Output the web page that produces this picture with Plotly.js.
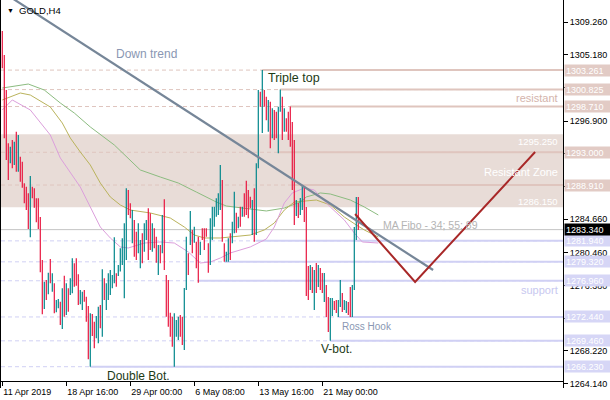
<!DOCTYPE html>
<html><head><meta charset="utf-8">
<script src="https://cdn.plot.ly/plotly-3.0.1.min.js"></script>
<style>html,body{margin:0;padding:0;background:#fff;}#chart{width:610px;height:400px;}</style>
</head><body><div id="chart"></div>
<script>
// ---- data (GOLD, H4 bars: high / low / direction) ----
const highs = [1308.14,1305.14,1300.77,1294.12,1293.70,1294.53,1294.32,1295.57,1295.16,1292.45,
1291.83,1289.12,1288.70,1287.88,1290.04,1288.70,1288.50,1287.25,1287.25,1284.92,
1279.55,1276.84,1277.05,1277.96,1279.68,1277.89,1276.64,1274.56,1274.68,1274.35,
1276.02,1277.59,1276.64,1276.02,1277.27,1279.76,1279.14,1279.76,1277.77,1275.81,
1275.60,1275.81,1274.97,1273.81,1272.90,1272.81,1271.85,1272.56,1273.72,1273.93,
1278.39,1277.27,1276.64,1277.89,1278.30,1277.68,1282.38,1277.89,1278.93,1281.01,
1282.26,1284.13,1288.50,1288.29,1286.63,1285.79,1284.54,1283.09,1284.13,1282.05,
1282.88,1284.13,1284.54,1286.00,1285.38,1284.13,1283.51,1282.46,1281.42,1281.42,
1285.17,1287.13,1277.68,1277.05,1272.97,1272.47,1272.90,1272.06,1272.47,1272.68,
1272.47,1276.05,1282.46,1280.39,1285.67,1283.30,1283.71,1281.84,1282.46,1281.84,
1283.51,1283.51,1283.51,1281.64,1284.76,1286.21,1286.21,1287.25,1287.88,1291.41,
1289.54,1281.64,1280.59,1282.26,1282.88,1284.33,1288.08,1285.46,1284.96,1286.21,
1286.21,1287.88,1289.45,1288.29,1287.46,1287.04,1288.50,1291.62,1300.77,1300.56,
1303.26,1300.77,1299.94,1299.53,1299.32,1298.49,1298.28,1298.07,1298.69,1300.825,
1299.94,1298.49,1297.24,1298.07,1298.71,1296.78,1294.53,1287.04,1286.67,1287.29,
1288.79,1288.67,1286.17,1278.80,1278.93,1278.68,1278.30,1279.18,1278.93,1278.55,
1277.93,1277.93,1276.43,1274.93,1274.81,1274.81,1274.43,1274.56,1274.56,1277.05,
1275.43,1274.56,1274.43,1274.31,1276.18,1276.43,1283.67,1287.42,1287.42];
const lows = [1303.48,1294.74,1292.04,1289.54,1291.62,1291.00,1291.41,1290.58,1290.58,1289.33,
1288.58,1286.63,1285.79,1283.42,1282.38,1287.25,1286.08,1284.26,1283.42,1278.02,
1272.77,1273.43,1274.56,1275.27,1276.64,1275.60,1272.90,1273.02,1273.52,1271.44,
1270.94,1272.47,1272.68,1273.10,1275.18,1275.39,1276.22,1276.34,1273.93,1274.02,
1273.31,1274.35,1271.85,1267.15,1266.23,1270.06,1268.53,1269.78,1269.15,1271.02,
1269.98,1274.56,1273.31,1274.56,1275.18,1276.02,1276.64,1276.22,1277.55,1278.10,
1278.93,1274.77,1279.55,1285.17,1284.76,1281.64,1279.96,1279.55,1280.39,1278.51,
1279.14,1280.59,1282.05,1279.55,1280.80,1280.59,1281.01,1279.21,1277.68,1279.14,
1280.39,1278.30,1272.47,1271.23,1269.98,1268.73,1266.23,1269.98,1269.56,1269.98,
1268.94,1268.32,1275.81,1277.68,1281.42,1280.39,1281.71,1278.51,1276.72,1280.17,
1282.05,1280.80,1282.46,1277.97,1278.93,1282.05,1283.71,1284.96,1285.17,1285.79,
1281.84,1279.34,1279.34,1279.34,1279.55,1281.64,1282.88,1282.96,1283.51,1283.71,
1284.96,1284.96,1285.17,1284.76,1286.00,1282.67,1281.84,1282.67,1290.99,1298.69,
1295.41,1298.69,1297.00,1295.57,1293.50,1294.74,1294.53,1294.74,1292.87,1298.07,
1294.53,1295.57,1295.57,1294.53,1293.70,1288.29,1283.92,1285.04,1284.80,1285.17,
1285.79,1284.30,1275.06,1274.56,1275.81,1275.43,1273.31,1275.43,1276.18,1275.81,
1275.43,1274.31,1272.44,1270.56,1269.46,1272.56,1273.31,1272.93,1272.44,1273.68,
1273.06,1273.31,1272.93,1272.68,1272.44,1272.44,1275.81,1282.05,1283.30];
const dirs = ("ddddududud"+"dddduddddd"+"dudududuud"+"ududuudddu"+"udddudduud"+
"uduuuuuduu"+"uuuddudduu"+"duudduddud"+"uddddduuud"+"duudududdu"+
"dddduuuuuu"+"dduuduudud"+"udddduduud"+"uddududduu"+"dudddddudu"+
"udddududud"+"dudduudduu"+"duudduuud").split('');

// moving averages (34 / 55 / 89), sampled at bar positions
const ma89X = [0,13,21,29,36,44,56,69,79,88,97,107,112,120,132,141,149,152,159,164,174,181,188];
const ma89Y = [1301.02,1301.52,1300.77,1299.15,1297.90,1296.16,1293.91,1290.79,1289.91,1289.16,1288.04,1286.79,1286.29,1286.04,1285.67,1286.04,1286.79,1287.42,1287.92,1287.79,1287.04,1286.17,1285.17];
const ma55X = [0,9,14,24,30,34,39,44,49,54,59,64,74,84,91,96,101,109,124,131,136,141,146,157,164,171,177,181,188];
const ma55Y = [1299.53,1300.40,1300.15,1298.65,1296.65,1294.78,1293.03,1291.41,1289.16,1287.42,1286.42,1285.79,1285.42,1284.79,1283.67,1282.67,1282.30,1282.30,1282.67,1283.30,1284.17,1285.79,1286.79,1287.04,1286.42,1284.92,1283.92,1283.30,1282.42];
const ma34X = [0,5,14,20,24,29,34,39,44,49,54,59,63,71,79,86,93,99,104,109,114,119,124,129,132,136,141,145,151,156,164,171,176,180,188];
const ma34Y = [1298.28,1299.53,1298.28,1296.40,1295.16,1292.29,1290.54,1288.66,1286.17,1283.67,1282.30,1281.18,1281.05,1281.67,1281.80,1281.67,1280.55,1279.18,1279.30,1279.80,1280.43,1280.80,1281.18,1281.80,1282.17,1283.67,1286.67,1287.92,1288.54,1288.29,1286.17,1284.55,1282.92,1281.80,1281.67];

// drawn objects
const trendX = [0, 215.4], trendY = [1313.03, 1278.30];
const zigX = [176.4, 206.4, 266.4], zigY = [1285.29, 1276.81, 1293.03];
const resLevels = [1303.261,1300.825,1298.710,1293.000,1288.910];
const resStart  = [130,139,144,138,145];
const supLevels = [1281.940,1279.320,1276.960,1272.440,1269.460,1266.230];
const supStart  = [127,111,98,168,164,44];
const zoneTop = 1295.25, zoneBottom = 1286.15;
const lastPrice = 1283.34;

// axes
const xTickIdx  = [0,32,64,96,128,160];
const xTickText = ['11 Apr 2019','18 Apr 16:00','29 Apr 00:00','6 May 08:00','13 May 16:00','21 May 00:00'];
const yTickVals = [1309.26,1305.18,1301.04,1296.90,1292.82,1288.74,1284.66,1280.46,1276.38,1272.30,1268.22,1264.14];
const yTickShown = [true,true,false,true,false,false,true,true,true,false,true,true];

// ---- styling ----
const SANS = "'Liberation Sans',Arial,sans-serif";
const UP = '#00868b', DOWN = '#e8163f';
const RES = '#dfc5be', SUP = '#d0d0f4', ZONE = '#e8dcd7';
const XMIN = -0.65, XMAX = 280.35;

function segs(ch){
  const x=[], y=[];
  for(let i=0;i<highs.length;i++){ if(dirs[i]!==ch) continue; x.push(i,i,null); y.push(lows[i],highs[i],null); }
  return {x, y};
}
const up = segs('u'), dn = segs('d');

const traces = [
  {x:ma89X, y:ma89Y, mode:'lines', line:{color:'#8cbc80', width:1}, hoverinfo:'skip'},
  {x:ma55X, y:ma55Y, mode:'lines', line:{color:'#bab35c', width:1}, hoverinfo:'skip'},
  {x:ma34X, y:ma34Y, mode:'lines', line:{color:'#dc9fdc', width:1}, hoverinfo:'skip'},
  {x:up.x, y:up.y, mode:'lines', line:{color:UP, width:1.2}, hoverinfo:'skip', connectgaps:false},
  {x:dn.x, y:dn.y, mode:'lines', line:{color:DOWN, width:1.2}, hoverinfo:'skip', connectgaps:false},
  {x:trendX, y:trendY, mode:'lines', line:{color:'#768698', width:2.2}, hoverinfo:'skip'},
  {x:zigX, y:zigY, mode:'lines', line:{color:'#a82828', width:2}, hoverinfo:'skip'}
];

// plot area spans y 0..388 px; the chart frame bottom (time axis) sits at ~381 px
const AXPOS = 7.5/388;
const shapes = [
  {type:'rect', xref:'paper', x0:0, x1:1, yref:'y', y0:zoneBottom, y1:zoneTop, fillcolor:ZONE, line:{width:0}, layer:'below'},
  {type:'line', xref:'paper', x0:0, x1:1, yref:'y', y0:lastPrice, y1:lastPrice, line:{color:'#c4c4c4', width:1}, layer:'below'}
];
resLevels.forEach((v,k)=>{
  shapes.push({type:'line', xref:'paper', x0:0, x1:1, yref:'y', y0:v, y1:v, line:{color:RES, width:1, dash:'4px,3px'}, layer:'below'});
  shapes.push({type:'line', xref:'x', x0:resStart[k], x1:XMAX, yref:'y', y0:v, y1:v, line:{color:RES, width:2}, layer:'below'});
});
supLevels.forEach((v,k)=>{
  shapes.push({type:'line', xref:'paper', x0:0, x1:1, yref:'y', y0:v, y1:v, line:{color:SUP, width:1, dash:'4px,3px'}, layer:'below'});
  shapes.push({type:'line', xref:'x', x0:supStart[k], x1:XMAX, yref:'y', y0:v, y1:v, line:{color:SUP, width:2}, layer:'below'});
});

function box(v, bg){
  return {xref:'paper', x:1, xanchor:'left', xshift:1, yref:'y', y:v, yanchor:'middle',
    text:v.toFixed(3), showarrow:false, bgcolor:bg, borderpad:1, width:44, height:9, align:'left',
    font:{family:SANS, size:9, color:'#ffffff'}};
}
const annotations = [];
resLevels.forEach(v=>annotations.push(box(v, '#e2cbc5')));
supLevels.forEach(v=>annotations.push(box(v, '#d6d6f6')));
annotations.push(box(lastPrice, '#000000'));

function label(text, x, y, xanchor, color, size, xref){
  return {xref:xref||'x', x:x, yref:'y', y:y, xanchor:xanchor, yanchor:'middle', text:text, showarrow:false,
    font:{family:SANS, size:size, color:color}};
}
annotations.push(label('Down trend', 72, 1305.27, 'center', '#8a97b3', 12));
annotations.push(label('Triple top', 131.85, 1302.27, 'left', '#1c3a16', 12.5));
annotations.push(label('Double Bot.', 51.35, 1265.07, 'left', '#1c3a16', 12));
annotations.push(label('V-bot.', 158.35, 1268.44, 'left', '#1c3a16', 12));
annotations.push(label('Ross Hook', 168.85, 1271.31, 'left', '#8a97b3', 10));
annotations.push(label('MA Fibo - 34; 55; 89', 189.35, 1283.92, 'left', '#b4b4b4', 10.5));
annotations.push(label('resistant', 0.9947, 1299.78, 'right', '#d4b4ac', 11, 'paper'));
annotations.push(label('Resistant Zone', 0.9947, 1290.54, 'right', '#ffffff', 11, 'paper'));
annotations.push(label('1295.250', 0.9947, 1294.34, 'right', '#ffffff', 9.5, 'paper'));
annotations.push(label('1286.150', 0.9947, 1286.86, 'right', '#ffffff', 9.5, 'paper'));
annotations.push(label('support', 0.9947, 1275.81, 'right', '#c8c8f0', 11, 'paper'));
annotations.push({xref:'paper', x:0.008, xanchor:'left', yref:'paper', y:1, yanchor:'top', yshift:-5, text:'▼', showarrow:false, font:{family:SANS, size:7, color:'#000'}});
annotations.push({xref:'paper', x:0.028, xanchor:'left', yref:'paper', y:1, yanchor:'top', yshift:-3, text:'GOLD,H4', showarrow:false, font:{family:SANS, size:9.5, color:'#000'}});

const layout = {
  width:610, height:400,
  margin:{l:1, r:47, t:0, b:12, pad:0},
  paper_bgcolor:'#ffffff', plot_bgcolor:'#ffffff',
  showlegend:false,
  xaxis:{range:[XMIN, XMAX], anchor:'free', position:AXPOS, tickmode:'array', tickvals:xTickIdx, ticktext:xTickText,
    tickangle:0, ticks:'outside', ticklen:4, tickcolor:'#000', tickwidth:1, showgrid:false, zeroline:false,
    showline:true, linecolor:'#000', linewidth:1, ticklabelposition:'outside right', ticklabelstandoff:3,
    tickfont:{family:SANS, size:9, color:'#000'}, fixedrange:true},
  yaxis:{range:[1263.57, 1312.01], side:'right', tickmode:'array', tickvals:yTickVals,
    ticktext:yTickVals.map((v,k)=>yTickShown[k]?v.toFixed(3):''), ticks:'outside', ticklen:4, tickcolor:'#000', tickwidth:1,
    showgrid:false, zeroline:false, showline:true, linecolor:'#000', linewidth:1, mirror:true,
    tickfont:{family:SANS, size:9, color:'#000'}, fixedrange:true},
  shapes:shapes,
  annotations:annotations
};
Plotly.newPlot('chart', traces, layout, {staticPlot:true, displayModeBar:false});
</script>
</body></html>
